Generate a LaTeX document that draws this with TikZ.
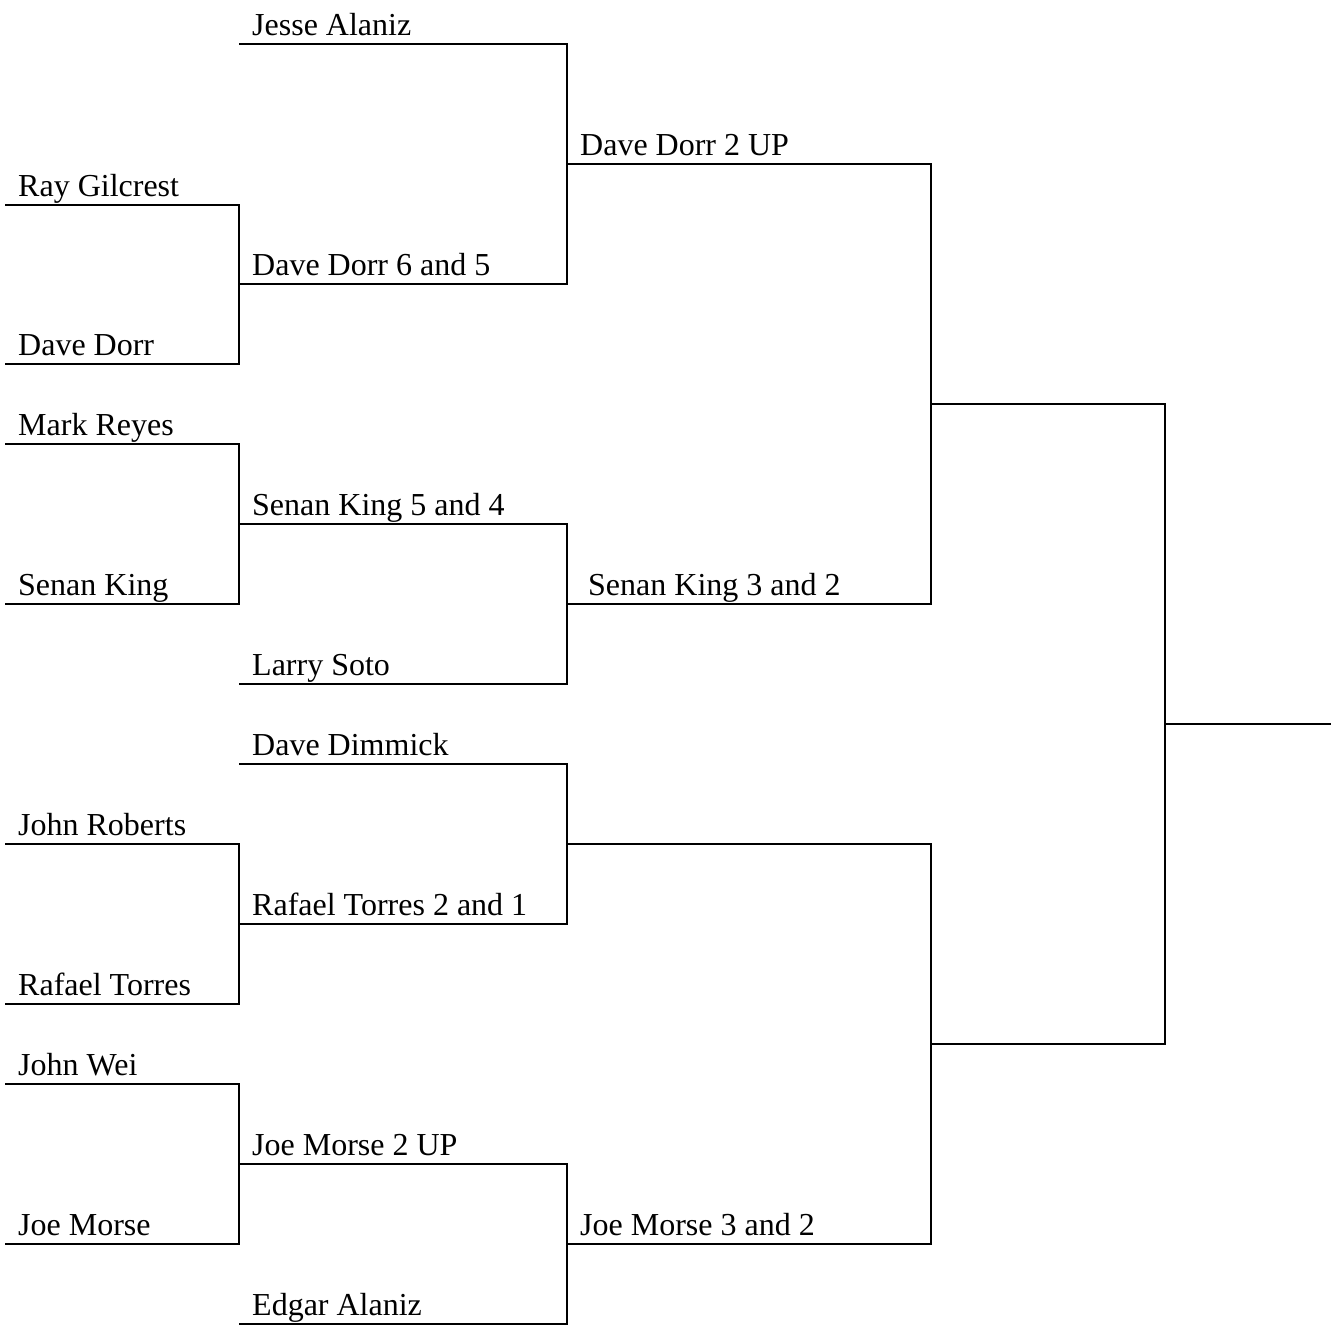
\documentclass[tikz,border=0pt]{standalone}
\usepackage{fontspec}
\setmainfont{Liberation Serif}
\newcommand{\bslot}[5]{%
  \coordinate (#1-s) at (#2,#4);
  \coordinate (#1-e) at (#3,#4);
  \node[lbl] (#1-t) at ([xshift=13pt,yshift=9pt]#1-s) {#5};
}
\begin{document}
\begin{tikzpicture}[x=1pt,y=-1pt,
  bline/.style={line width=2pt, line join=miter, line cap=butt},
  lbl/.style={anchor=base west, inner sep=0pt, font=\fontsize{32}{38}\selectfont}]
\useasboundingbox (0,0) rectangle (1336,1334);
\begin{scope}[yshift=-1pt]
% round 1
\bslot{a1}{5}{239}{204}{Ray Gilcrest}
\bslot{a2}{5}{239}{363}{Dave Dorr}
\bslot{a3}{5}{239}{443}{Mark Reyes}
\bslot{a4}{5}{239}{603}{Senan King}
\bslot{a5}{5}{239}{843}{John Roberts}
\bslot{a6}{5}{239}{1003}{Rafael Torres}
\bslot{a7}{5}{239}{1083}{John Wei}
\bslot{a8}{5}{239}{1243}{Joe Morse}
% round 2
\bslot{b1}{239}{567}{43}{Jesse Alaniz}
\bslot{b2}{239}{567}{283}{Dave Dorr 6 and 5}
\bslot{b3}{239}{567}{523}{Senan King 5 and 4}
\bslot{b4}{239}{567}{683}{Larry Soto}
\bslot{b5}{239}{567}{763}{Dave Dimmick}
\bslot{b6}{239}{567}{923}{Rafael Torres 2 and 1}
\bslot{b7}{239}{567}{1163}{Joe Morse 2 UP}
\bslot{b8}{239}{567}{1323}{Edgar Alaniz}
% round 3
\bslot{c1}{567}{931}{163}{Dave Dorr 2 UP}
\bslot{c2}{567}{931}{603}{\hspace{8pt}Senan King 3 and 2}
\bslot{c3}{567}{931}{843}{}
\bslot{c4}{567}{931}{1243}{Joe Morse 3 and 2}
% round 4
\bslot{d1}{931}{1165}{403}{}
\bslot{d2}{931}{1165}{1043}{}
% final
\bslot{f}{1165}{1331}{723}{}
% connectors
\draw[bline] (a1-s) -- (a1-e) -- (a2-e) -- (a2-s);
\draw[bline] (a3-s) -- (a3-e) -- (a4-e) -- (a4-s);
\draw[bline] (a5-s) -- (a5-e) -- (a6-e) -- (a6-s);
\draw[bline] (a7-s) -- (a7-e) -- (a8-e) -- (a8-s);
\draw[bline] (b1-s) -- (b1-e) -- (b2-e) -- (b2-s);
\draw[bline] (b3-s) -- (b3-e) -- (b4-e) -- (b4-s);
\draw[bline] (b5-s) -- (b5-e) -- (b6-e) -- (b6-s);
\draw[bline] (b7-s) -- (b7-e) -- (b8-e) -- (b8-s);
\draw[bline] (c1-s) -- (c1-e) -- (c2-e) -- (c2-s);
\draw[bline] (c3-s) -- (c3-e) -- (c4-e) -- (c4-s);
\draw[bline] (d1-s) -- (d1-e) -- (d2-e) -- (d2-s);
\draw[bline] (f-s) -- (f-e);
\end{scope}
\end{tikzpicture}
\end{document}
